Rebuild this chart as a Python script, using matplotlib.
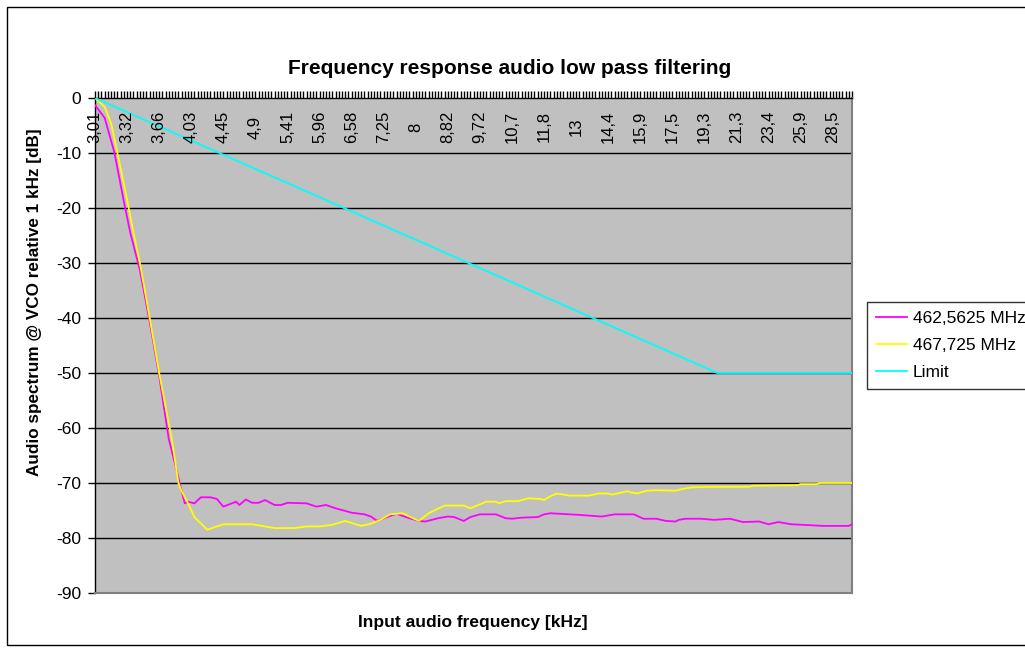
import matplotlib
matplotlib.use("Agg")
import matplotlib.pyplot as plt
import matplotlib.transforms as mtransforms
from matplotlib.patches import Rectangle

plt.rcParams["font.family"] = ["Liberation Sans", "DejaVu Sans"]
plt.rcParams["axes.unicode_minus"] = False

# category axis: one category per measured frequency step, label every 10th
N_CATEGORIES = 237
freq_labels = ["3,01", "3,32", "3,66", "4,03", "4,45", "4,9", "5,41", "5,96",
               "6,58", "7,25", "8", "8,82", "9,72", "10,7", "11,8", "13",
               "14,4", "15,9", "17,5", "19,3", "21,3", "23,4", "25,9", "28,5"]
LABEL_STEP = 10

# 462,5625 MHz channel (category index, dB)
ch1_idx = [0, 3, 6, 9, 11, 14, 17, 20, 23, 26, 27, 28, 29, 31, 33, 36, 38, 40,
           44, 45, 47, 49, 51, 53, 56, 58, 60, 66, 69, 72, 75, 80, 84, 86, 88,
           91, 94, 98, 101, 103, 107, 110, 112, 115, 117, 120, 125, 128, 130,
           133, 138, 140, 142, 151, 158, 160, 162, 168, 171, 175, 178, 181,
           182, 184, 189, 193, 198, 202, 207, 210, 213, 217, 227, 235, 236]
ch1_db = [-1.3, -3.6, -9.8, -18.8, -24.5, -31.3, -40.5, -50.5, -62.0, -69.0,
          -71.5, -73.7, -73.4, -73.7, -72.6, -72.6, -72.9, -74.3, -73.4, -74.0,
          -73.0, -73.6, -73.6, -73.1, -74.0, -74.0, -73.6, -73.7, -74.3, -74.0,
          -74.6, -75.4, -75.7, -76.1, -76.9, -76.2, -75.6, -76.4, -76.9, -77.0,
          -76.4, -76.1, -76.2, -76.9, -76.2, -75.7, -75.7, -76.4, -76.5, -76.3,
          -76.2, -75.7, -75.5, -75.8, -76.1, -75.9, -75.7, -75.7, -76.5, -76.5,
          -76.9, -77.0, -76.7, -76.5, -76.5, -76.7, -76.5, -77.1, -77.0, -77.5,
          -77.1, -77.5, -77.8, -77.8, -77.5]

# 467,725 MHz channel (category index, dB)
ch2_idx = [0, 3, 5, 7, 10, 12, 14, 17, 20, 24, 26, 27, 29, 31, 35, 37, 40, 49,
           53, 56, 62, 66, 70, 74, 78, 83, 86, 89, 92, 96, 98, 101, 104, 109,
           115, 117, 122, 125, 126, 128, 132, 133, 135, 139, 140, 142, 144, 148,
           154, 157, 160, 161, 163, 166, 167, 169, 172, 175, 181, 183, 186, 192,
           204, 205, 219, 220, 225, 226, 236]
ch2_db = [0.0, -1.6, -4.6, -10.0, -18.5, -24.5, -30.0, -39.8, -50.0, -62.2,
          -70.0, -71.5, -73.7, -76.2, -78.5, -78.1, -77.5, -77.5, -77.9, -78.2,
          -78.2, -77.9, -77.9, -77.6, -76.9, -77.8, -77.4, -76.7, -75.7, -75.5,
          -76.1, -76.9, -75.5, -74.1, -74.1, -74.6, -73.4, -73.4, -73.7, -73.3,
          -73.3, -73.1, -72.8, -72.9, -73.1, -72.4, -71.9, -72.3, -72.3, -71.9,
          -71.9, -72.1, -71.9, -71.5, -71.7, -71.9, -71.4, -71.3, -71.4, -71.1,
          -70.8, -70.7, -70.7, -70.5, -70.4, -70.2, -70.2, -70.0, -70.0]

# limit mask: 0 dB at 3 kHz falling to -50 dB at 20 kHz, flat above
limit_idx = [0, 194, 236]
limit_db = [0, -50, -50]

fig = plt.figure(figsize=(10.25, 6.52), dpi=100)
fig.patch.set_facecolor("white")
ax = fig.add_axes([95 / 1025, 59 / 652, 757 / 1025, 495 / 652])
ax.set_facecolor("#C0C0C0")

ax.plot(ch1_idx, ch1_db, color="#FF00FF", lw=1.3, label="462,5625 MHz", zorder=3)
ax.plot(ch2_idx, ch2_db, color="#FFFF00", lw=1.3, label="467,725 MHz", zorder=4)
ax.plot(limit_idx, limit_db, color="#00FFFF", lw=1.3, label="Limit", zorder=5)

ax.set_xlim(0, N_CATEGORIES - 1)
ax.set_ylim(-90, 0)

# y axis
yt = list(range(-90, 1, 10))
ax.set_yticks(yt)
ax.set_yticklabels([str(v) for v in yt], fontsize=12.5)
ax.tick_params(axis="y", direction="out", length=5, width=1, color="black", pad=5)
for v in yt[1:-1]:
    ax.axhline(v, color="black", lw=1, zorder=1)

# x axis sits at 0 dB (top), ticks on every category
ax.set_xticks(range(N_CATEGORIES))
ax.tick_params(axis="x", top=True, bottom=False, labeltop=False, labelbottom=False,
               direction="out", length=5, width=1, color="black")
trans = mtransforms.blended_transform_factory(ax.transData, ax.transAxes)
for k, lab in enumerate(freq_labels):
    ax.text(k * LABEL_STEP, 1 - 29 / 495, lab, transform=trans, rotation=90,
            ha="center", va="center", fontsize=12, zorder=6)

for side in ("left", "top"):
    ax.spines[side].set_color("black")
    ax.spines[side].set_linewidth(1)
for side in ("right", "bottom"):
    ax.spines[side].set_color("#808080")
    ax.spines[side].set_linewidth(1.5)

fig.text(510 / 1025, 1 - 68 / 652, "Frequency response audio low pass filtering",
         ha="center", va="center", fontsize=15, fontweight="bold")
fig.text(35 / 1025, 1 - 302 / 652, "Audio spectrum @ VCO relative 1 kHz [dB]",
         rotation=90, ha="center", va="center", fontsize=12.3, fontweight="bold")
fig.text(473 / 1025, 1 - 623 / 652, "Input audio frequency [kHz]",
         ha="center", va="center", fontsize=12.5, fontweight="bold")

leg = fig.legend(loc="upper left", bbox_to_anchor=(867 / 1025, 1 - 302 / 652),
                 fontsize=12.5, handlelength=1.8, handletextpad=0.35,
                 labelspacing=0.7, borderpad=0.5, borderaxespad=0,
                 fancybox=False, frameon=True)
leg.get_frame().set_edgecolor("black")
leg.get_frame().set_linewidth(1)

# chart area border
fig.patches.append(Rectangle((7 / 1025, 7 / 652), 1.1, 638 / 652,
                             transform=fig.transFigure, fill=False,
                             edgecolor="black", lw=1))

fig.savefig("out.png", dpi=100)
